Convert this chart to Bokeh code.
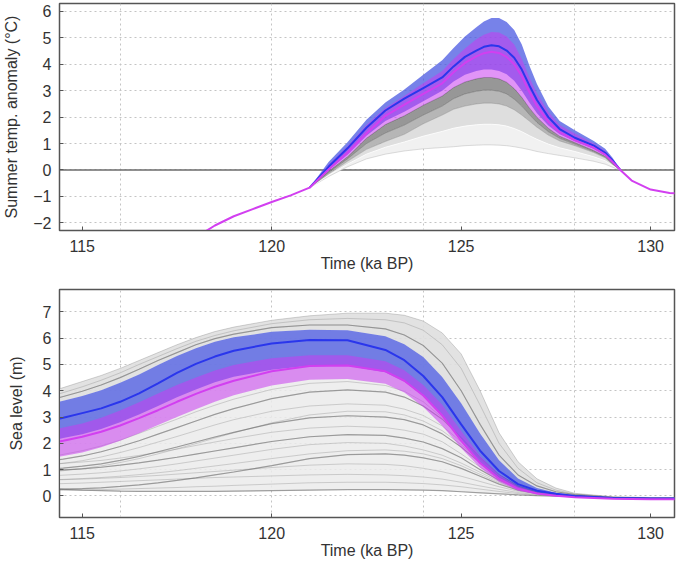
from bokeh.plotting import figure
from bokeh.layouts import column
from bokeh.models import FixedTicker, Span, Range1d
from bokeh.embed import file_html
from bokeh.resources import INLINE

# ---------------- shared axis data ----------------
x_ticks = [115, 120, 125, 130]
x_grid_lines = [116, 120, 124, 128]
temp_ticks = [-2, -1, 0, 1, 2, 3, 4, 5, 6]
sl_ticks = [0, 1, 2, 3, 4, 5, 6, 7]

# ---------------- top panel: summer temperature anomaly ----------------
temp_time = [118.0, 118.5, 119.0, 119.5, 120.0, 120.5, 121.0, 121.5, 122.0, 122.5,
             123.0, 123.5, 124.0, 124.5, 124.8, 125.1, 125.4, 125.6, 125.8, 126.0,
             126.2, 126.4, 126.6, 126.8, 127.0, 127.3, 127.6, 128.0, 128.5, 128.8,
             129.0, 129.2, 129.5, 130.0, 130.5, 131.0]
temp_magenta = [-2.55, -2.1, -1.75, -1.48, -1.21, -0.96, -0.67, 0.02, 0.65, 1.38,
                2.05, 2.47, 2.88, 3.28, 3.7, 4.05, 4.3, 4.42, 4.47, 4.43,
                4.28, 4.0, 3.55, 2.95, 2.42, 1.82, 1.42, 1.12, 0.84, 0.58,
                0.3, 0.0, -0.4, -0.74, -0.87, -0.92]

band_time = [121.0, 121.5, 122.0, 122.5, 123.0, 123.5, 124.0, 124.5, 124.8, 125.1,
             125.4, 125.6, 125.8, 126.0, 126.2, 126.4, 126.6, 126.8, 127.0, 127.3,
             127.6, 128.0, 128.5, 128.8, 129.0, 129.2]
temp_blue = [-0.67, 0.12, 0.82, 1.6, 2.25, 2.7, 3.1, 3.5, 3.92, 4.28,
             4.52, 4.66, 4.72, 4.68, 4.52, 4.25, 3.8, 3.2, 2.65, 2.0,
             1.55, 1.22, 0.92, 0.65, 0.35, 0.0]
temp_blue_hi = [-0.67, 0.3, 1.05, 1.9, 2.55, 3.05, 3.6, 4.15, 4.62, 5.05,
                5.4, 5.62, 5.75, 5.75, 5.6, 5.3, 4.75, 3.95, 3.25, 2.4,
                1.85, 1.5, 1.1, 0.8, 0.45, 0.0]
temp_mag_hi = [-0.67, 0.2, 0.9, 1.7, 2.35, 2.8, 3.28, 3.75, 4.2, 4.6,
               4.95, 5.12, 5.22, 5.2, 5.05, 4.75, 4.2, 3.5, 2.9, 2.2,
               1.7, 1.38, 1.0, 0.72, 0.4, 0.0]
temp_blue_lo = [-0.67, 0.0, 0.58, 1.3, 1.85, 2.2, 2.6, 3.0, 3.35, 3.6,
                3.75, 3.8, 3.8, 3.75, 3.62, 3.38, 3.0, 2.55, 2.15, 1.68,
                1.35, 1.1, 0.8, 0.56, 0.28, 0.0]
temp_mag_lo = [-0.67, -0.05, 0.5, 1.2, 1.72, 2.05, 2.45, 2.8, 3.12, 3.33,
               3.45, 3.5, 3.5, 3.45, 3.32, 3.08, 2.75, 2.35, 2.0, 1.58,
               1.28, 1.04, 0.74, 0.52, 0.25, 0.0]
temp_gray_dark_mid = [-0.67, -0.1, 0.42, 1.0, 1.4, 1.7, 2.08, 2.42, 2.7, 2.88,
                      2.98, 3.02, 3.02, 2.98, 2.88, 2.68, 2.42, 2.1, 1.8, 1.45,
                      1.2, 0.98, 0.7, 0.49, 0.23, 0.0]
temp_gray_dark_lo = [-0.67, -0.15, 0.33, 0.78, 1.08, 1.35, 1.75, 2.08, 2.3, 2.42,
                     2.5, 2.53, 2.53, 2.5, 2.42, 2.28, 2.08, 1.85, 1.62, 1.32,
                     1.1, 0.92, 0.66, 0.46, 0.21, 0.0]
temp_gray_light_mid = [-0.67, -0.2, 0.22, 0.6, 0.86, 1.06, 1.28, 1.46, 1.58, 1.66,
                       1.71, 1.73, 1.73, 1.71, 1.66, 1.57, 1.45, 1.3, 1.16, 0.98,
                       0.84, 0.7, 0.5, 0.35, 0.16, 0.0]
temp_gray_light_lo = [-0.67, -0.25, 0.12, 0.42, 0.6, 0.72, 0.8, 0.85, 0.88, 0.92,
                      0.94, 0.95, 0.95, 0.94, 0.92, 0.88, 0.83, 0.77, 0.7, 0.62,
                      0.55, 0.46, 0.33, 0.22, 0.1, 0.0]

# ---------------- bottom panel: sea level ----------------
sl_time = [114.0, 114.5, 115.0, 115.5, 116.0, 116.5, 117.0, 117.5, 118.0, 118.5,
           119.0, 120.0, 121.0, 122.0, 123.0, 123.5, 124.0, 124.5, 125.0, 125.5,
           126.0, 126.5, 127.0, 127.5, 128.0, 129.0, 130.0, 131.0]
sl_blue = [2.8, 2.97, 3.15, 3.33, 3.58, 3.9, 4.28, 4.68, 5.02, 5.3,
           5.52, 5.8, 5.93, 5.92, 5.55, 5.16, 4.56, 3.76, 2.72, 1.72,
           0.95, 0.45, 0.2, 0.08, 0.0, -0.08, -0.1, -0.1]
sl_blue_hi = [3.45, 3.62, 3.8, 4.02, 4.3, 4.62, 4.98, 5.32, 5.62, 5.86,
              6.03, 6.24, 6.32, 6.3, 6.07, 5.77, 5.28, 4.52, 3.52, 2.37,
              1.36, 0.66, 0.3, 0.12, 0.03, -0.05, -0.07, -0.07]
sl_blue_lo = [2.05, 2.2, 2.35, 2.55, 2.8, 3.1, 3.42, 3.75, 4.05, 4.32,
              4.53, 4.8, 4.95, 4.95, 4.7, 4.35, 3.8, 3.08, 2.15, 1.27,
              0.67, 0.3, 0.11, 0.02, -0.04, -0.1, -0.12, -0.12]
sl_mag = [1.98, 2.1, 2.25, 2.44, 2.68, 2.96, 3.26, 3.58, 3.88, 4.15,
          4.38, 4.74, 4.94, 4.96, 4.74, 4.38, 3.82, 3.06, 2.1, 1.25,
          0.65, 0.27, 0.09, 0.01, -0.05, -0.11, -0.13, -0.13]
sl_mag_hi = [2.45, 2.6, 2.75, 2.97, 3.25, 3.56, 3.9, 4.22, 4.5, 4.77,
             4.98, 5.24, 5.35, 5.35, 5.12, 4.78, 4.22, 3.47, 2.47, 1.52,
             0.81, 0.36, 0.14, 0.04, -0.02, -0.09, -0.11, -0.11]
sl_mag_lo = [1.4, 1.52, 1.65, 1.85, 2.1, 2.38, 2.7, 3.0, 3.3, 3.58,
             3.83, 4.2, 4.42, 4.45, 4.27, 3.93, 3.38, 2.67, 1.82, 1.07,
             0.53, 0.2, 0.06, 0.0, -0.05, -0.12, -0.14, -0.14]

# individual ensemble members (grey)
sl_g1 = [3.9, 4.12, 4.35, 4.58, 4.85, 5.15, 5.45, 5.75, 6.02, 6.25, 6.42, 6.68, 6.85, 6.95, 6.95, 6.87, 6.65, 6.2, 5.4, 4.0, 2.4, 1.3, 0.65, 0.3, 0.1, -0.03, -0.06, -0.06]
sl_g2 = [3.58, 3.78, 3.98, 4.22, 4.5, 4.82, 5.15, 5.45, 5.75, 5.98, 6.15, 6.4, 6.5, 6.5, 6.35, 6.12, 5.72, 5.05, 4.0, 2.72, 1.55, 0.8, 0.38, 0.16, 0.05, -0.05, -0.08, -0.08]
sl_g3 = [3.72, 3.93, 4.15, 4.4, 4.68, 5.0, 5.3, 5.6, 5.88, 6.1, 6.28, 6.55, 6.7, 6.75, 6.7, 6.58, 6.3, 5.75, 4.85, 3.45, 2.0, 1.05, 0.5, 0.22, 0.07, -0.04, -0.07, -0.07]
sl_g4 = [1.45, 1.58, 1.72, 1.9, 2.12, 2.38, 2.65, 2.92, 3.2, 3.45, 3.68, 4.05, 4.28, 4.35, 4.2, 3.98, 3.58, 2.98, 2.18, 1.38, 0.74, 0.34, 0.13, 0.04, -0.02, -0.1, -0.12, -0.12]
sl_g5 = [1.3, 1.4, 1.52, 1.68, 1.88, 2.1, 2.35, 2.6, 2.85, 3.1, 3.32, 3.7, 3.95, 4.03, 3.95, 3.76, 3.42, 2.92, 2.22, 1.46, 0.8, 0.38, 0.15, 0.05, 0.0, -0.08, -0.1, -0.1]
sl_g6 = [1.15, 1.24, 1.34, 1.48, 1.65, 1.84, 2.05, 2.26, 2.48, 2.7, 2.9, 3.22, 3.42, 3.5, 3.45, 3.3, 3.06, 2.66, 2.06, 1.4, 0.8, 0.4, 0.17, 0.06, 0.0, -0.08, -0.1, -0.1]
sl_g7 = [1.0, 1.06, 1.13, 1.22, 1.35, 1.5, 1.68, 1.86, 2.05, 2.24, 2.42, 2.75, 2.97, 3.05, 3.0, 2.9, 2.7, 2.36, 1.86, 1.26, 0.72, 0.35, 0.15, 0.05, 0.0, -0.08, -0.1, -0.1]
sl_g8 = [1.2, 1.24, 1.29, 1.35, 1.44, 1.54, 1.66, 1.78, 1.92, 2.05, 2.18, 2.42, 2.58, 2.65, 2.6, 2.5, 2.35, 2.06, 1.6, 1.1, 0.65, 0.32, 0.13, 0.04, 0.0, -0.08, -0.1, -0.1]
sl_g9 = [0.95, 0.99, 1.03, 1.09, 1.17, 1.26, 1.36, 1.47, 1.59, 1.71, 1.83, 2.07, 2.25, 2.33, 2.3, 2.2, 2.05, 1.8, 1.45, 1.0, 0.6, 0.3, 0.12, 0.04, 0.0, -0.08, -0.1, -0.1]
sl_g10 = [0.75, 0.79, 0.83, 0.88, 0.95, 1.03, 1.12, 1.22, 1.33, 1.44, 1.55, 1.77, 1.95, 2.03, 2.0, 1.9, 1.75, 1.55, 1.25, 0.9, 0.55, 0.28, 0.12, 0.04, 0.0, -0.08, -0.1, -0.1]
sl_g11 = [0.25, 0.26, 0.28, 0.31, 0.36, 0.42, 0.5, 0.59, 0.69, 0.8, 0.91, 1.15, 1.42, 1.57, 1.6, 1.55, 1.45, 1.3, 1.05, 0.75, 0.45, 0.22, 0.1, 0.03, 0.0, -0.08, -0.1, -0.1]
sl_g12 = [0.6, 0.62, 0.64, 0.67, 0.7, 0.74, 0.78, 0.83, 0.88, 0.93, 0.98, 1.08, 1.17, 1.22, 1.2, 1.15, 1.05, 0.92, 0.75, 0.55, 0.35, 0.18, 0.08, 0.02, -0.02, -0.08, -0.1, -0.1]
sl_g13 = [0.45, 0.47, 0.49, 0.52, 0.55, 0.58, 0.61, 0.64, 0.67, 0.7, 0.72, 0.76, 0.8, 0.82, 0.8, 0.77, 0.72, 0.64, 0.52, 0.38, 0.25, 0.13, 0.05, 0.01, -0.02, -0.08, -0.1, -0.1]
sl_g14 = [0.28, 0.25, 0.22, 0.2, 0.18, 0.17, 0.17, 0.17, 0.17, 0.17, 0.18, 0.2, 0.22, 0.24, 0.24, 0.23, 0.22, 0.2, 0.16, 0.12, 0.08, 0.04, 0.01, -0.01, -0.03, -0.08, -0.1, -0.1]
sl_g15 = [0.2, 0.21, 0.22, 0.24, 0.26, 0.28, 0.3, 0.32, 0.35, 0.37, 0.4, 0.45, 0.5, 0.52, 0.52, 0.5, 0.47, 0.42, 0.35, 0.26, 0.17, 0.09, 0.03, 0.0, -0.02, -0.08, -0.1, -0.1]
sl_g16 = [0.6, 0.63, 0.66, 0.7, 0.75, 0.81, 0.88, 0.96, 1.05, 1.14, 1.23, 1.42, 1.6, 1.72, 1.75, 1.7, 1.6, 1.42, 1.15, 0.82, 0.5, 0.25, 0.1, 0.03, -0.01, -0.08, -0.1, -0.1]
sl_g17 = [0.9, 0.96, 1.04, 1.14, 1.27, 1.42, 1.6, 1.79, 1.99, 2.2, 2.4, 2.78, 3.08, 3.22, 3.2, 3.08, 2.85, 2.48, 1.95, 1.32, 0.75, 0.37, 0.15, 0.05, 0.0, -0.08, -0.1, -0.1]

# ---------------- styling constants ----------------
FONT = "Liberation Sans"
BLUE_LINE = "#2a36ec"
MAG_LINE = "#d23ff0"
BLUE_BAND = "#4252e0"
MAG_BAND = "#c83cf0"
W = 677


def style(p, y_ticks, x_label, y_label, ylab_standoff):
    p.outline_line_color = "#555555"
    p.outline_line_width = 1.5
    p.background_fill_color = "white"
    p.border_fill_color = "white"
    p.xaxis.ticker = FixedTicker(ticks=x_ticks)
    p.yaxis.ticker = FixedTicker(ticks=y_ticks)
    p.xgrid.ticker = FixedTicker(ticks=x_grid_lines)
    p.ygrid.ticker = FixedTicker(ticks=y_ticks)
    for g in (p.xgrid[0], p.ygrid[0]):
        g.grid_line_color = "#c4c4c4"
        g.grid_line_dash = "2 3"
        g.grid_line_width = 1
    for ax in (p.xaxis[0], p.yaxis[0]):
        ax.major_tick_in = 4
        ax.major_tick_out = 0
        ax.minor_tick_line_color = None
        ax.axis_line_color = "#555555"
        ax.major_tick_line_color = "#555555"
        ax.major_label_text_font = FONT
        ax.major_label_text_font_size = "16px"
        ax.major_label_text_color = "#333333"
        ax.axis_label_text_font = FONT
        ax.axis_label_text_font_size = "16px"
        ax.axis_label_text_font_style = "normal"
        ax.axis_label_text_color = "#333333"
    p.xaxis.axis_label = x_label
    p.yaxis.axis_label = y_label
    p.xaxis.major_label_standoff = 9
    p.xaxis.axis_label_standoff = 0
    p.yaxis.major_label_standoff = 8
    p.yaxis.axis_label_standoff = ylab_standoff


# ================= top figure =================
p1 = figure(width=W, height=274, output_backend="svg", toolbar_location=None,
            x_range=Range1d(114.4, 130.63), y_range=Range1d(-2.29, 6.3),
            min_border_left=57, min_border_right=3, min_border_top=3, min_border_bottom=42)
style(p1, temp_ticks, "Time (ka BP)", "Summer temp. anomaly (°C)", 10)

zero = Span(location=0, dimension="width", line_color="#6b6b6b", line_width=1.5, level="underlay")
p1.add_layout(zero)

# grey ensemble (graded shading)
p1.varea(x=band_time, y1=temp_gray_light_lo, y2=temp_gray_light_mid, fill_color="#f1f1f1")
p1.varea(x=band_time, y1=temp_gray_light_mid, y2=temp_gray_dark_lo, fill_color="#dedede")
p1.varea(x=band_time, y1=temp_gray_dark_lo, y2=temp_gray_dark_mid, fill_color="#b6b6b6")
p1.varea(x=band_time, y1=temp_gray_dark_mid, y2=temp_mag_lo, fill_color="#979797")
for arr, col, a in ((temp_gray_light_lo, "#bbbbbb", 0.5), (temp_gray_light_mid, "#ffffff", 0.8),
                    (temp_gray_dark_lo, "#777777", 0.35), (temp_gray_dark_mid, "#555555", 0.4),
                    (temp_mag_lo, "#333333", 0.4)):
    p1.line(band_time, arr, line_color=col, line_alpha=a, line_width=1)

# coloured ensembles
p1.varea(x=band_time, y1=temp_blue_lo, y2=temp_blue_hi, fill_color=BLUE_BAND, fill_alpha=0.72)
p1.varea(x=band_time, y1=temp_mag_lo, y2=temp_mag_hi, fill_color=MAG_BAND, fill_alpha=0.55)
p1.line(band_time, temp_blue, line_color=BLUE_LINE, line_width=2)
p1.line(temp_time, temp_magenta, line_color=MAG_LINE, line_width=2)

# ================= bottom figure =================
p2 = figure(width=W, height=287, output_backend="svg", toolbar_location=None,
            x_range=Range1d(114.4, 130.63), y_range=Range1d(-0.82, 7.85),
            min_border_left=57, min_border_right=3, min_border_top=15, min_border_bottom=42)
style(p2, sl_ticks, "Time (ka BP)", "Sea level (m)", 15)

grey_members = [sl_g1, sl_g2, sl_g3, sl_g4, sl_g5, sl_g6, sl_g7, sl_g8, sl_g9,
                sl_g10, sl_g11, sl_g12, sl_g13, sl_g14, sl_g15, sl_g16, sl_g17]
dark_members = [sl_g2, sl_g5, sl_g7, sl_g9, sl_g11, sl_g14]

p2.varea(x=sl_time, y1=sl_g14, y2=sl_g1, fill_color="#ebebeb", fill_alpha=0.85)
p2.varea(x=sl_time, y1=sl_blue_hi, y2=sl_g1, fill_color="#d0d0d0", fill_alpha=0.4)
p2.multi_line(xs=[sl_time] * len(grey_members), ys=grey_members,
              line_color="#808080", line_alpha=0.32, line_width=1)
p2.multi_line(xs=[sl_time] * len(dark_members), ys=dark_members,
              line_color="#505050", line_alpha=0.4, line_width=1.2)

p2.varea(x=sl_time, y1=sl_blue_lo, y2=sl_blue_hi, fill_color=BLUE_BAND, fill_alpha=0.72)
p2.varea(x=sl_time, y1=sl_mag_lo, y2=sl_mag_hi, fill_color=MAG_BAND, fill_alpha=0.55)
p2.line(sl_time, sl_blue, line_color=BLUE_LINE, line_width=2)
p2.line(sl_time, sl_mag, line_color=MAG_LINE, line_width=2)

layout = column(p1, p2, spacing=0)
open("out.html", "w").write(file_html(layout, INLINE))
